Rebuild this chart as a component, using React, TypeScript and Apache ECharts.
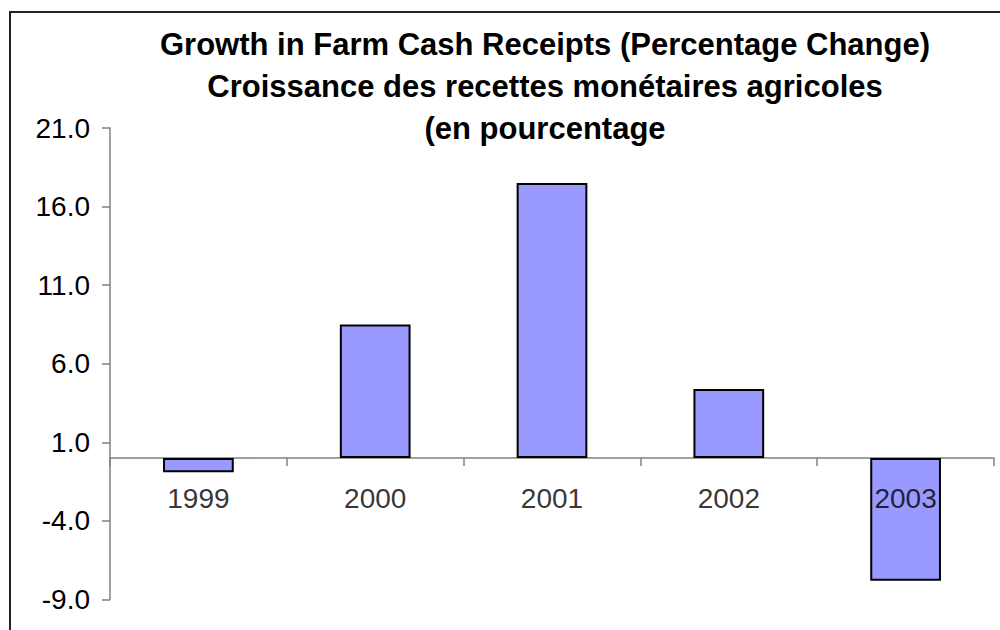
import React, { useEffect, useRef } from "react";
import * as echarts from "echarts";

const categories = ["1999", "2000", "2001", "2002", "2003"];
const growth = [-0.9, 8.5, 17.5, 4.4, -7.8];
const titleLines = [
  "Growth in Farm Cash Receipts (Percentage Change)",
  "Croissance des recettes monétaires agricoles",
  "(en pourcentage",
];
const yMin = -9;
const yMax = 21;
const yStep = 5;

const FONT = "'Liberation Sans', Arial, sans-serif";

export default function App() {
  const ref = useRef<HTMLDivElement>(null);
  useEffect(() => {
    if (!ref.current) return;
    const chart = echarts.init(ref.current, null, { renderer: "svg" });
    chart.setOption({
      animation: false,
      backgroundColor: "#ffffff",
      graphic: [
        {
          type: "rect",
          shape: { x: 10, y: 12, width: 1000, height: 630 },
          style: { fill: "none", stroke: "#222", lineWidth: 2 },
          silent: true,
        },
        ...titleLines.map((t, i) => ({
          type: "text",
          x: 545,
          y: 44 + i * 42,
          style: {
            text: t,
            textAlign: "center",
            textVerticalAlign: "middle",
            font: `bold 31px ${FONT}`,
            fill: "#000",
          },
        })),
      ],
      grid: { left: 110, right: 6, top: 128, bottom: 30.5, containLabel: false, outerBoundsMode: "none" },
      xAxis: {
        type: "category",
        data: categories,
        axisLine: { onZero: true, lineStyle: { color: "#808080", width: 1.5 } },
        axisTick: { show: true, alignWithLabel: false, length: 8, lineStyle: { color: "#808080", width: 1.5 } },
        axisLabel: { show: false },
        splitLine: { show: false },
      },
      yAxis: {
        type: "value",
        min: yMin,
        max: yMax,
        interval: yStep,
        axisLine: { show: true, lineStyle: { color: "#808080", width: 1.5 } },
        axisTick: { show: true, length: 8, lineStyle: { color: "#808080", width: 1.5 } },
        axisLabel: {
          color: "#000",
          fontSize: 28,
          fontFamily: FONT,
          margin: 20,
          formatter: (v: number) => v.toFixed(1),
        },
        splitLine: { show: false },
      },
      series: [
        {
          type: "bar",
          data: growth,
          barWidth: "40%",
          itemStyle: { color: "#9999FF", borderColor: "#000", borderWidth: 2 },
        },
        {
          type: "scatter",
          data: categories.map((c) => [c, 0]),
          symbolSize: 0,
          silent: true,
          z: 5,
          label: {
            show: true,
            position: "inside",
            offset: [0, 40],
            formatter: (p: any) => p.value[0],
            color: "#000",
            textBorderWidth: 0,
            textBorderColor: "transparent",
            fontSize: 28,
            fontFamily: FONT,
          },
        },
      ],
    });
    return () => chart.dispose();
  }, []);
  return (
    <div
      ref={ref}
      style={{ width: 1000, height: 630, position: "fixed", left: 0, top: 0 }}
    />
  );
}
